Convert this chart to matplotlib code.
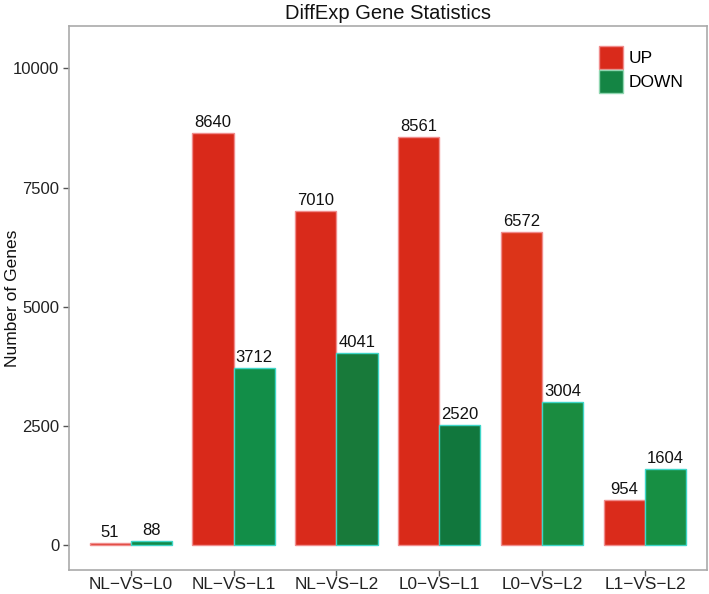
import matplotlib.pyplot as plt
import numpy as np
from matplotlib.patches import Patch

plt.rcParams['font.family'] = ['Liberation Sans', 'DejaVu Sans']

groups = ['NL-VS-L0', 'NL-VS-L1', 'NL-VS-L2', 'L0-VS-L1', 'L0-VS-L2', 'L1-VS-L2']
up = [51, 8640, 7010, 8561, 6572, 954]
down = [88, 3712, 4041, 2520, 3004, 1604]

up_colors = ['#d92b1b', '#d9291a', '#d92a1b', '#d92a19', '#dc3419', '#da2b1b']
down_colors = ['#138a48', '#128e48', '#187a3a', '#11773d', '#1a8c40', '#178f43']
up_edge = '#f08c8c'
down_edge = '#3fd6c8'

fig = plt.figure(figsize=(7.09, 5.94), dpi=100)
ax = fig.add_axes([0.0973, 0.0404, 0.9997 - 0.0973 - 0.003, 0.956 - 0.0404])

x = np.arange(1, len(groups) + 1)
w = 0.4
ax.bar(x - w / 2, up, width=w, color=up_colors, edgecolor=up_edge, linewidth=1.0)
ax.bar(x + w / 2, down, width=w, color=down_colors, edgecolor=down_edge, linewidth=1.0)

for xi, v in zip(x - w / 2, up):
    ax.annotate(str(v), (xi, v), xytext=(0, 2), textcoords='offset points',
                ha='center', va='bottom', fontsize=12, color='#111111')
for xi, v in zip(x + w / 2, down):
    ax.annotate(str(v), (xi, v), xytext=(0, 2), textcoords='offset points',
                ha='center', va='bottom', fontsize=12, color='#111111')

ax.set_xlim(0.4, len(groups) + 0.6)
ax.set_ylim(-518, 10886)
ax.set_yticks([0, 2500, 5000, 7500, 10000])
ax.set_xticks(x)
ax.set_xticklabels([g.replace('-', '\u2212') for g in groups])
ax.tick_params(axis='both', length=4, width=1, color='#555555', labelsize=12,
               labelcolor='#222222', pad=3)
ax.tick_params(axis='x', labelsize=12.4, pad=1)

for s in ax.spines.values():
    s.set_color('#aaaaaa')
    s.set_linewidth(1.2)

ax.set_ylabel('Number of Genes', fontsize=12.5, color='#111111')
ax.yaxis.set_label_coords(-0.077, 0.5)
ax.set_title('DiffExp Gene Statistics', fontsize=14.5, color='#111111', pad=5)

handles = [Patch(facecolor='#d92a1b', edgecolor=up_edge, label='UP'),
           Patch(facecolor='#148544', edgecolor='#8fd6b0', label='DOWN')]
ax.legend(handles=handles, loc='upper left', bbox_to_anchor=(0.82, 0.977),
          frameon=False, fontsize=12.5, handlelength=1.4, handleheight=1.7,
          handletextpad=0.3, labelspacing=0.05, borderaxespad=0)

fig.savefig('out.png', dpi=100)
